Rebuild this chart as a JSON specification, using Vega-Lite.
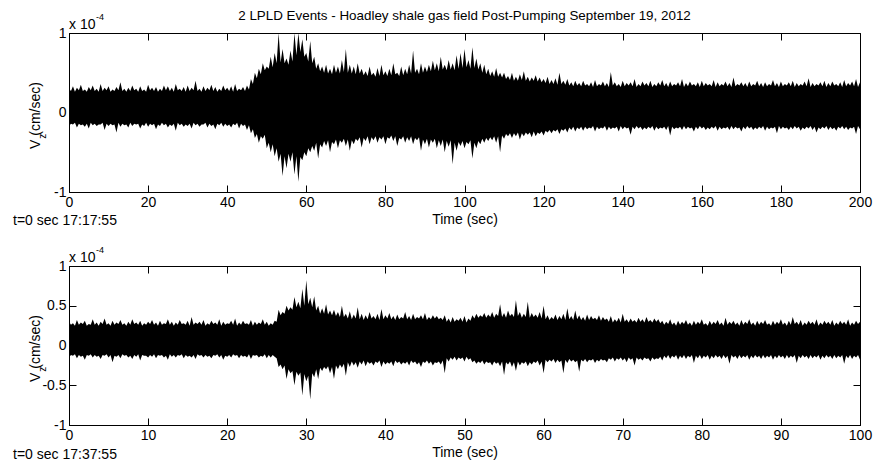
{
"$schema": "https://vega.github.io/schema/vega-lite/v6.json",
"padding": {"left": 12, "top": 8, "right": 5, "bottom": 5},
"bounds": "flush",
"spacing": 74,
"config": {
  "font": "Liberation Sans",
  "view": {"stroke": "#000", "strokeWidth": 1},
  "axis": {"domainColor": "#000", "tickColor": "#000", "labelColor": "#000", "titleColor": "#000", "labelFont": "Liberation Sans", "titleFont": "Liberation Sans", "labelFontSize": 14, "titleFontSize": 14, "titleFontWeight": "normal", "grid": false, "tickSize": -7, "labelPadding": 10, "labelFlush": false, "labelOverlap": false},
  "text": {"font": "Liberation Sans", "fontSize": 14, "color": "#000"}
},
"datasets": {
"top": [
{"t":0,"h":0.30,"l":-0.17},{"t":0.5,"h":0.27,"l":-0.14},{"t":1,"h":0.33,"l":-0.15},{"t":1.5,"h":0.26,"l":-0.13},{"t":2,"h":0.31,"l":-0.19},{"t":2.5,"h":0.28,"l":-0.14},{"t":3,"h":0.35,"l":-0.16},{"t":3.5,"h":0.27,"l":-0.15},{"t":4,"h":0.29,"l":-0.18},{"t":4.5,"h":0.26,"l":-0.14},
{"t":5,"h":0.32,"l":-0.20},{"t":5.5,"h":0.28,"l":-0.13},{"t":6,"h":0.34,"l":-0.16},{"t":6.5,"h":0.27,"l":-0.14},{"t":7,"h":0.30,"l":-0.17},{"t":7.5,"h":0.26,"l":-0.15},{"t":8,"h":0.36,"l":-0.15},{"t":8.5,"h":0.27,"l":-0.13},{"t":9,"h":0.31,"l":-0.22},{"t":9.5,"h":0.28,"l":-0.14},
{"t":10,"h":0.33,"l":-0.17},{"t":10.5,"h":0.26,"l":-0.14},{"t":11,"h":0.29,"l":-0.16},{"t":11.5,"h":0.27,"l":-0.15},{"t":12,"h":0.32,"l":-0.25},{"t":12.5,"h":0.28,"l":-0.13},{"t":13,"h":0.38,"l":-0.18},{"t":13.5,"h":0.27,"l":-0.14},{"t":14,"h":0.30,"l":-0.16},{"t":14.5,"h":0.26,"l":-0.15},
{"t":15,"h":0.31,"l":-0.19},{"t":15.5,"h":0.27,"l":-0.13},{"t":16,"h":0.34,"l":-0.17},{"t":16.5,"h":0.28,"l":-0.14},{"t":17,"h":0.30,"l":-0.15},{"t":17.5,"h":0.26,"l":-0.14},{"t":18,"h":0.33,"l":-0.20},{"t":18.5,"h":0.27,"l":-0.15},{"t":19,"h":0.29,"l":-0.17},{"t":19.5,"h":0.26,"l":-0.13},
{"t":20,"h":0.35,"l":-0.18},{"t":20.5,"h":0.28,"l":-0.14},{"t":21,"h":0.31,"l":-0.16},{"t":21.5,"h":0.27,"l":-0.14},{"t":22,"h":0.32,"l":-0.21},{"t":22.5,"h":0.26,"l":-0.15},{"t":23,"h":0.30,"l":-0.17},{"t":23.5,"h":0.27,"l":-0.13},{"t":24,"h":0.34,"l":-0.16},{"t":24.5,"h":0.28,"l":-0.14},
{"t":25,"h":0.33,"l":-0.19},{"t":25.5,"h":0.27,"l":-0.15},{"t":26,"h":0.31,"l":-0.17},{"t":26.5,"h":0.26,"l":-0.14},{"t":27,"h":0.36,"l":-0.23},{"t":27.5,"h":0.28,"l":-0.13},{"t":28,"h":0.30,"l":-0.16},{"t":28.5,"h":0.27,"l":-0.14},{"t":29,"h":0.32,"l":-0.18},{"t":29.5,"h":0.26,"l":-0.15},
{"t":30,"h":0.34,"l":-0.17},{"t":30.5,"h":0.27,"l":-0.14},{"t":31,"h":0.31,"l":-0.20},{"t":31.5,"h":0.28,"l":-0.13},{"t":32,"h":0.40,"l":-0.16},{"t":32.5,"h":0.27,"l":-0.14},{"t":33,"h":0.30,"l":-0.18},{"t":33.5,"h":0.26,"l":-0.15},{"t":34,"h":0.33,"l":-0.15},{"t":34.5,"h":0.27,"l":-0.13},
{"t":35,"h":0.31,"l":-0.19},{"t":35.5,"h":0.28,"l":-0.14},{"t":36,"h":0.35,"l":-0.17},{"t":36.5,"h":0.27,"l":-0.15},{"t":37,"h":0.32,"l":-0.21},{"t":37.5,"h":0.26,"l":-0.14},{"t":38,"h":0.30,"l":-0.16},{"t":38.5,"h":0.27,"l":-0.13},{"t":39,"h":0.34,"l":-0.18},{"t":39.5,"h":0.28,"l":-0.14},
{"t":40,"h":0.31,"l":-0.17},{"t":40.5,"h":0.27,"l":-0.15},{"t":41,"h":0.33,"l":-0.19},{"t":41.5,"h":0.26,"l":-0.14},{"t":42,"h":0.36,"l":-0.16},{"t":42.5,"h":0.27,"l":-0.13},{"t":43,"h":0.30,"l":-0.20},{"t":43.5,"h":0.28,"l":-0.14},{"t":44,"h":0.32,"l":-0.17},{"t":44.5,"h":0.27,"l":-0.15},
{"t":45,"h":0.34,"l":-0.22},{"t":45.5,"h":0.29,"l":-0.16},{"t":46,"h":0.42,"l":-0.26},{"t":46.5,"h":0.36,"l":-0.21},{"t":47,"h":0.50,"l":-0.32},{"t":47.5,"h":0.43,"l":-0.27},{"t":48,"h":0.55,"l":-0.38},{"t":48.5,"h":0.48,"l":-0.30},{"t":49,"h":0.62,"l":-0.33},{"t":49.5,"h":0.53,"l":-0.28},
{"t":50,"h":0.58,"l":-0.45},{"t":50.5,"h":0.55,"l":-0.38},{"t":51,"h":0.70,"l":-0.50},{"t":51.5,"h":0.57,"l":-0.40},{"t":52,"h":0.75,"l":-0.55},{"t":52.5,"h":0.62,"l":-0.45},{"t":53,"h":1.0,"l":-0.62},{"t":53.5,"h":0.63,"l":-0.52},{"t":54,"h":0.80,"l":-0.80},{"t":54.5,"h":0.62,"l":-0.55},
{"t":55,"h":0.68,"l":-0.70},{"t":55.5,"h":0.60,"l":-0.52},{"t":56,"h":0.78,"l":-0.62},{"t":56.5,"h":0.64,"l":-0.50},{"t":57,"h":1.0,"l":-0.78},{"t":57.5,"h":0.72,"l":-0.55},{"t":58,"h":1.0,"l":-0.87},{"t":58.5,"h":0.76,"l":-0.56},{"t":59,"h":0.92,"l":-0.60},{"t":59.5,"h":0.70,"l":-0.50},
{"t":60,"h":0.75,"l":-0.55},{"t":60.5,"h":0.64,"l":-0.45},{"t":61,"h":0.90,"l":-0.50},{"t":61.5,"h":0.62,"l":-0.42},{"t":62,"h":0.70,"l":-0.48},{"t":62.5,"h":0.55,"l":-0.38},{"t":63,"h":0.62,"l":-0.58},{"t":63.5,"h":0.52,"l":-0.40},{"t":64,"h":0.58,"l":-0.44},{"t":64.5,"h":0.50,"l":-0.36},
{"t":65,"h":0.60,"l":-0.42},{"t":65.5,"h":0.49,"l":-0.35},{"t":66,"h":0.55,"l":-0.50},{"t":66.5,"h":0.48,"l":-0.37},{"t":67,"h":0.60,"l":-0.40},{"t":67.5,"h":0.50,"l":-0.34},{"t":68,"h":0.58,"l":-0.45},{"t":68.5,"h":0.49,"l":-0.35},{"t":69,"h":0.66,"l":-0.38},{"t":69.5,"h":0.51,"l":-0.33},
{"t":70,"h":0.80,"l":-0.42},{"t":70.5,"h":0.50,"l":-0.34},{"t":71,"h":0.60,"l":-0.48},{"t":71.5,"h":0.49,"l":-0.35},{"t":72,"h":0.58,"l":-0.40},{"t":72.5,"h":0.48,"l":-0.33},{"t":73,"h":0.62,"l":-0.36},{"t":73.5,"h":0.49,"l":-0.31},{"t":74,"h":0.55,"l":-0.44},{"t":74.5,"h":0.47,"l":-0.32},
{"t":75,"h":0.52,"l":-0.36},{"t":75.5,"h":0.46,"l":-0.30},{"t":76,"h":0.58,"l":-0.40},{"t":76.5,"h":0.47,"l":-0.31},{"t":77,"h":0.50,"l":-0.35},{"t":77.5,"h":0.45,"l":-0.30},{"t":78,"h":0.56,"l":-0.38},{"t":78.5,"h":0.46,"l":-0.31},{"t":79,"h":0.60,"l":-0.34},{"t":79.5,"h":0.47,"l":-0.30},
{"t":80,"h":0.52,"l":-0.40},{"t":80.5,"h":0.46,"l":-0.31},{"t":81,"h":0.55,"l":-0.33},{"t":81.5,"h":0.47,"l":-0.29},{"t":82,"h":0.62,"l":-0.36},{"t":82.5,"h":0.48,"l":-0.30},{"t":83,"h":0.50,"l":-0.42},{"t":83.5,"h":0.46,"l":-0.32},{"t":84,"h":0.58,"l":-0.34},{"t":84.5,"h":0.47,"l":-0.30},
{"t":85,"h":0.55,"l":-0.38},{"t":85.5,"h":0.48,"l":-0.31},{"t":86,"h":0.60,"l":-0.36},{"t":86.5,"h":0.49,"l":-0.30},{"t":87,"h":0.78,"l":-0.40},{"t":87.5,"h":0.50,"l":-0.32},{"t":88,"h":0.55,"l":-0.35},{"t":88.5,"h":0.48,"l":-0.31},{"t":89,"h":0.62,"l":-0.48},{"t":89.5,"h":0.50,"l":-0.34},
{"t":90,"h":0.58,"l":-0.40},{"t":90.5,"h":0.51,"l":-0.33},{"t":91,"h":0.60,"l":-0.44},{"t":91.5,"h":0.52,"l":-0.34},{"t":92,"h":0.65,"l":-0.38},{"t":92.5,"h":0.53,"l":-0.33},{"t":93,"h":0.62,"l":-0.45},{"t":93.5,"h":0.52,"l":-0.35},{"t":94,"h":0.70,"l":-0.42},{"t":94.5,"h":0.54,"l":-0.34},
{"t":95,"h":0.60,"l":-0.50},{"t":95.5,"h":0.53,"l":-0.36},{"t":96,"h":0.66,"l":-0.43},{"t":96.5,"h":0.54,"l":-0.35},{"t":97,"h":0.62,"l":-0.65},{"t":97.5,"h":0.53,"l":-0.38},{"t":98,"h":0.72,"l":-0.48},{"t":98.5,"h":0.55,"l":-0.37},{"t":99,"h":0.75,"l":-0.42},{"t":99.5,"h":0.56,"l":-0.36},
{"t":100,"h":0.80,"l":-0.45},{"t":100.5,"h":0.57,"l":-0.37},{"t":101,"h":0.66,"l":-0.40},{"t":101.5,"h":0.55,"l":-0.35},{"t":102,"h":0.82,"l":-0.58},{"t":102.5,"h":0.56,"l":-0.38},{"t":103,"h":0.68,"l":-0.45},{"t":103.5,"h":0.54,"l":-0.36},{"t":104,"h":0.62,"l":-0.40},{"t":104.5,"h":0.50,"l":-0.33},
{"t":105,"h":0.60,"l":-0.38},{"t":105.5,"h":0.48,"l":-0.32},{"t":106,"h":0.55,"l":-0.36},{"t":106.5,"h":0.46,"l":-0.31},{"t":107,"h":0.52,"l":-0.35},{"t":107.5,"h":0.45,"l":-0.30},{"t":108,"h":0.56,"l":-0.38},{"t":108.5,"h":0.45,"l":-0.30},{"t":109,"h":0.50,"l":-0.50},{"t":109.5,"h":0.44,"l":-0.29},
{"t":110,"h":0.50,"l":-0.33},{"t":110.5,"h":0.42,"l":-0.27},{"t":111,"h":0.46,"l":-0.30},{"t":111.5,"h":0.41,"l":-0.26},{"t":112,"h":0.50,"l":-0.32},{"t":112.5,"h":0.40,"l":-0.26},{"t":113,"h":0.45,"l":-0.30},{"t":113.5,"h":0.40,"l":-0.25},{"t":114,"h":0.48,"l":-0.34},{"t":114.5,"h":0.41,"l":-0.26},
{"t":115,"h":0.52,"l":-0.30},{"t":115.5,"h":0.40,"l":-0.25},{"t":116,"h":0.45,"l":-0.28},{"t":116.5,"h":0.39,"l":-0.25},{"t":117,"h":0.44,"l":-0.31},{"t":117.5,"h":0.40,"l":-0.24},{"t":118,"h":0.47,"l":-0.30},{"t":118.5,"h":0.39,"l":-0.25},{"t":119,"h":0.44,"l":-0.27},{"t":119.5,"h":0.38,"l":-0.24},
{"t":120,"h":0.42,"l":-0.29},{"t":120.5,"h":0.37,"l":-0.23},{"t":121,"h":0.45,"l":-0.25},{"t":121.5,"h":0.36,"l":-0.22},{"t":122,"h":0.41,"l":-0.26},{"t":122.5,"h":0.36,"l":-0.22},{"t":123,"h":0.43,"l":-0.24},{"t":123.5,"h":0.35,"l":-0.21},{"t":124,"h":0.50,"l":-0.27},{"t":124.5,"h":0.36,"l":-0.21},
{"t":125,"h":0.40,"l":-0.23},{"t":125.5,"h":0.35,"l":-0.20},{"t":126,"h":0.42,"l":-0.25},{"t":126.5,"h":0.34,"l":-0.19},{"t":127,"h":0.38,"l":-0.22},{"t":127.5,"h":0.33,"l":-0.18},{"t":128,"h":0.40,"l":-0.24},{"t":128.5,"h":0.34,"l":-0.19},{"t":129,"h":0.37,"l":-0.21},{"t":129.5,"h":0.33,"l":-0.18},
{"t":130,"h":0.40,"l":-0.23},{"t":130.5,"h":0.34,"l":-0.18},{"t":131,"h":0.36,"l":-0.21},{"t":131.5,"h":0.33,"l":-0.19},{"t":132,"h":0.38,"l":-0.20},{"t":132.5,"h":0.32,"l":-0.17},{"t":133,"h":0.41,"l":-0.24},{"t":133.5,"h":0.33,"l":-0.18},{"t":134,"h":0.36,"l":-0.21},{"t":134.5,"h":0.34,"l":-0.19},
{"t":135,"h":0.39,"l":-0.20},{"t":135.5,"h":0.33,"l":-0.17},{"t":136,"h":0.37,"l":-0.23},{"t":136.5,"h":0.32,"l":-0.18},{"t":137,"h":0.51,"l":-0.21},{"t":137.5,"h":0.34,"l":-0.19},{"t":138,"h":0.38,"l":-0.20},{"t":138.5,"h":0.33,"l":-0.18},{"t":139,"h":0.36,"l":-0.24},{"t":139.5,"h":0.32,"l":-0.17},
{"t":140,"h":0.40,"l":-0.21},{"t":140.5,"h":0.33,"l":-0.18},{"t":141,"h":0.37,"l":-0.20},{"t":141.5,"h":0.34,"l":-0.19},{"t":142,"h":0.38,"l":-0.28},{"t":142.5,"h":0.33,"l":-0.18},{"t":143,"h":0.42,"l":-0.21},{"t":143.5,"h":0.32,"l":-0.17},{"t":144,"h":0.36,"l":-0.20},{"t":144.5,"h":0.33,"l":-0.18},
{"t":145,"h":0.39,"l":-0.22},{"t":145.5,"h":0.34,"l":-0.19},{"t":146,"h":0.37,"l":-0.21},{"t":146.5,"h":0.33,"l":-0.18},{"t":147,"h":0.40,"l":-0.20},{"t":147.5,"h":0.32,"l":-0.17},{"t":148,"h":0.36,"l":-0.23},{"t":148.5,"h":0.33,"l":-0.18},{"t":149,"h":0.38,"l":-0.21},{"t":149.5,"h":0.34,"l":-0.19},
{"t":150,"h":0.41,"l":-0.20},{"t":150.5,"h":0.33,"l":-0.18},{"t":151,"h":0.37,"l":-0.22},{"t":151.5,"h":0.32,"l":-0.17},{"t":152,"h":0.39,"l":-0.29},{"t":152.5,"h":0.33,"l":-0.18},{"t":153,"h":0.36,"l":-0.21},{"t":153.5,"h":0.34,"l":-0.19},{"t":154,"h":0.38,"l":-0.20},{"t":154.5,"h":0.33,"l":-0.18},
{"t":155,"h":0.42,"l":-0.22},{"t":155.5,"h":0.32,"l":-0.17},{"t":156,"h":0.37,"l":-0.21},{"t":156.5,"h":0.33,"l":-0.18},{"t":157,"h":0.39,"l":-0.20},{"t":157.5,"h":0.34,"l":-0.19},{"t":158,"h":0.36,"l":-0.24},{"t":158.5,"h":0.33,"l":-0.18},{"t":159,"h":0.38,"l":-0.21},{"t":159.5,"h":0.32,"l":-0.17},
{"t":160,"h":0.40,"l":-0.20},{"t":160.5,"h":0.33,"l":-0.18},{"t":161,"h":0.37,"l":-0.22},{"t":161.5,"h":0.34,"l":-0.19},{"t":162,"h":0.36,"l":-0.21},{"t":162.5,"h":0.33,"l":-0.18},{"t":163,"h":0.41,"l":-0.20},{"t":163.5,"h":0.32,"l":-0.17},{"t":164,"h":0.38,"l":-0.23},{"t":164.5,"h":0.33,"l":-0.18},
{"t":165,"h":0.36,"l":-0.21},{"t":165.5,"h":0.34,"l":-0.19},{"t":166,"h":0.39,"l":-0.20},{"t":166.5,"h":0.33,"l":-0.18},{"t":167,"h":0.37,"l":-0.22},{"t":167.5,"h":0.32,"l":-0.17},{"t":168,"h":0.44,"l":-0.21},{"t":168.5,"h":0.33,"l":-0.18},{"t":169,"h":0.36,"l":-0.20},{"t":169.5,"h":0.34,"l":-0.19},
{"t":170,"h":0.38,"l":-0.24},{"t":170.5,"h":0.33,"l":-0.18},{"t":171,"h":0.37,"l":-0.21},{"t":171.5,"h":0.32,"l":-0.17},{"t":172,"h":0.39,"l":-0.20},{"t":172.5,"h":0.33,"l":-0.18},{"t":173,"h":0.36,"l":-0.22},{"t":173.5,"h":0.34,"l":-0.19},{"t":174,"h":0.40,"l":-0.21},{"t":174.5,"h":0.33,"l":-0.18},
{"t":175,"h":0.37,"l":-0.20},{"t":175.5,"h":0.32,"l":-0.17},{"t":176,"h":0.38,"l":-0.23},{"t":176.5,"h":0.33,"l":-0.18},{"t":177,"h":0.36,"l":-0.21},{"t":177.5,"h":0.34,"l":-0.19},{"t":178,"h":0.41,"l":-0.20},{"t":178.5,"h":0.33,"l":-0.18},{"t":179,"h":0.37,"l":-0.26},{"t":179.5,"h":0.32,"l":-0.17},
{"t":180,"h":0.39,"l":-0.21},{"t":180.5,"h":0.33,"l":-0.18},{"t":181,"h":0.36,"l":-0.20},{"t":181.5,"h":0.34,"l":-0.19},{"t":182,"h":0.38,"l":-0.22},{"t":182.5,"h":0.33,"l":-0.18},{"t":183,"h":0.40,"l":-0.21},{"t":183.5,"h":0.32,"l":-0.17},{"t":184,"h":0.37,"l":-0.20},{"t":184.5,"h":0.33,"l":-0.18},
{"t":185,"h":0.36,"l":-0.23},{"t":185.5,"h":0.34,"l":-0.19},{"t":186,"h":0.39,"l":-0.21},{"t":186.5,"h":0.33,"l":-0.18},{"t":187,"h":0.43,"l":-0.20},{"t":187.5,"h":0.32,"l":-0.17},{"t":188,"h":0.37,"l":-0.22},{"t":188.5,"h":0.33,"l":-0.18},{"t":189,"h":0.36,"l":-0.25},{"t":189.5,"h":0.34,"l":-0.19},
{"t":190,"h":0.38,"l":-0.21},{"t":190.5,"h":0.33,"l":-0.18},{"t":191,"h":0.40,"l":-0.20},{"t":191.5,"h":0.32,"l":-0.17},{"t":192,"h":0.37,"l":-0.22},{"t":192.5,"h":0.33,"l":-0.18},{"t":193,"h":0.39,"l":-0.21},{"t":193.5,"h":0.34,"l":-0.19},{"t":194,"h":0.36,"l":-0.23},{"t":194.5,"h":0.33,"l":-0.18},
{"t":195,"h":0.38,"l":-0.20},{"t":195.5,"h":0.32,"l":-0.17},{"t":196,"h":0.41,"l":-0.21},{"t":196.5,"h":0.33,"l":-0.18},{"t":197,"h":0.37,"l":-0.22},{"t":197.5,"h":0.34,"l":-0.19},{"t":198,"h":0.39,"l":-0.20},{"t":198.5,"h":0.33,"l":-0.18},{"t":199,"h":0.42,"l":-0.27},{"t":199.5,"h":0.32,"l":-0.17},
{"t":200,"h":0.38,"l":-0.21}
],
"bottom": [
{"t":0,"h":0.30,"l":-0.15},{"t":0.25,"h":0.26,"l":-0.12},{"t":0.5,"h":0.28,"l":-0.13},{"t":0.75,"h":0.25,"l":-0.11},{"t":1,"h":0.32,"l":-0.16},{"t":1.25,"h":0.26,"l":-0.12},{"t":1.5,"h":0.29,"l":-0.14},{"t":1.75,"h":0.27,"l":-0.13},{"t":2,"h":0.31,"l":-0.18},{"t":2.25,"h":0.25,"l":-0.12},
{"t":2.5,"h":0.27,"l":-0.13},{"t":2.75,"h":0.26,"l":-0.11},{"t":3,"h":0.33,"l":-0.15},{"t":3.25,"h":0.26,"l":-0.12},{"t":3.5,"h":0.29,"l":-0.14},{"t":3.75,"h":0.25,"l":-0.13},{"t":4,"h":0.30,"l":-0.17},{"t":4.25,"h":0.27,"l":-0.12},{"t":4.5,"h":0.34,"l":-0.13},{"t":4.75,"h":0.26,"l":-0.11},
{"t":5,"h":0.28,"l":-0.15},{"t":5.25,"h":0.25,"l":-0.12},{"t":5.5,"h":0.31,"l":-0.21},{"t":5.75,"h":0.26,"l":-0.13},{"t":6,"h":0.29,"l":-0.14},{"t":6.25,"h":0.27,"l":-0.12},{"t":6.5,"h":0.32,"l":-0.16},{"t":6.75,"h":0.26,"l":-0.11},{"t":7,"h":0.28,"l":-0.13},{"t":7.25,"h":0.25,"l":-0.12},
{"t":7.5,"h":0.30,"l":-0.15},{"t":7.75,"h":0.26,"l":-0.13},{"t":8,"h":0.33,"l":-0.17},{"t":8.25,"h":0.27,"l":-0.12},{"t":8.5,"h":0.29,"l":-0.14},{"t":8.75,"h":0.26,"l":-0.11},{"t":9,"h":0.31,"l":-0.19},{"t":9.25,"h":0.25,"l":-0.12},{"t":9.5,"h":0.28,"l":-0.13},{"t":9.75,"h":0.26,"l":-0.13},
{"t":10,"h":0.30,"l":-0.15},{"t":10.25,"h":0.27,"l":-0.12},{"t":10.5,"h":0.32,"l":-0.14},{"t":10.75,"h":0.26,"l":-0.11},{"t":11,"h":0.29,"l":-0.16},{"t":11.25,"h":0.25,"l":-0.12},{"t":11.5,"h":0.31,"l":-0.13},{"t":11.75,"h":0.26,"l":-0.12},{"t":12,"h":0.28,"l":-0.15},{"t":12.25,"h":0.27,"l":-0.13},
{"t":12.5,"h":0.33,"l":-0.18},{"t":12.75,"h":0.26,"l":-0.11},{"t":13,"h":0.30,"l":-0.14},{"t":13.25,"h":0.25,"l":-0.12},{"t":13.5,"h":0.29,"l":-0.15},{"t":13.75,"h":0.26,"l":-0.12},{"t":14,"h":0.32,"l":-0.13},{"t":14.25,"h":0.27,"l":-0.11},{"t":14.5,"h":0.28,"l":-0.16},{"t":14.75,"h":0.26,"l":-0.12},
{"t":15,"h":0.31,"l":-0.14},{"t":15.25,"h":0.25,"l":-0.13},{"t":15.5,"h":0.36,"l":-0.15},{"t":15.75,"h":0.26,"l":-0.12},{"t":16,"h":0.29,"l":-0.17},{"t":16.25,"h":0.27,"l":-0.11},{"t":16.5,"h":0.30,"l":-0.13},{"t":16.75,"h":0.26,"l":-0.12},{"t":17,"h":0.32,"l":-0.15},{"t":17.25,"h":0.25,"l":-0.12},
{"t":17.5,"h":0.28,"l":-0.14},{"t":17.75,"h":0.26,"l":-0.13},{"t":18,"h":0.31,"l":-0.16},{"t":18.25,"h":0.27,"l":-0.12},{"t":18.5,"h":0.29,"l":-0.13},{"t":18.75,"h":0.26,"l":-0.11},{"t":19,"h":0.33,"l":-0.15},{"t":19.25,"h":0.25,"l":-0.12},{"t":19.5,"h":0.30,"l":-0.18},{"t":19.75,"h":0.26,"l":-0.13},
{"t":20,"h":0.28,"l":-0.14},{"t":20.25,"h":0.27,"l":-0.12},{"t":20.5,"h":0.31,"l":-0.15},{"t":20.75,"h":0.26,"l":-0.11},{"t":21,"h":0.34,"l":-0.13},{"t":21.25,"h":0.25,"l":-0.12},{"t":21.5,"h":0.29,"l":-0.16},{"t":21.75,"h":0.26,"l":-0.12},{"t":22,"h":0.31,"l":-0.14},{"t":22.25,"h":0.27,"l":-0.13},
{"t":22.5,"h":0.28,"l":-0.15},{"t":22.75,"h":0.26,"l":-0.11},{"t":23,"h":0.32,"l":-0.17},{"t":23.25,"h":0.25,"l":-0.12},{"t":23.5,"h":0.30,"l":-0.13},{"t":23.75,"h":0.26,"l":-0.12},{"t":24,"h":0.29,"l":-0.15},{"t":24.25,"h":0.27,"l":-0.13},{"t":24.5,"h":0.33,"l":-0.14},{"t":24.75,"h":0.26,"l":-0.11},
{"t":25,"h":0.30,"l":-0.16},{"t":25.25,"h":0.25,"l":-0.12},{"t":25.5,"h":0.28,"l":-0.15},{"t":25.75,"h":0.26,"l":-0.12},{"t":26,"h":0.31,"l":-0.14},{"t":26.25,"h":0.30,"l":-0.16},{"t":26.5,"h":0.45,"l":-0.27},{"t":26.75,"h":0.38,"l":-0.24},{"t":27,"h":0.42,"l":-0.30},{"t":27.25,"h":0.40,"l":-0.25},
{"t":27.5,"h":0.50,"l":-0.42},{"t":27.75,"h":0.44,"l":-0.30},{"t":28,"h":0.48,"l":-0.35},{"t":28.25,"h":0.45,"l":-0.32},{"t":28.5,"h":0.61,"l":-0.50},{"t":28.75,"h":0.48,"l":-0.33},{"t":29,"h":0.55,"l":-0.38},{"t":29.25,"h":0.47,"l":-0.34},{"t":29.5,"h":0.71,"l":-0.63},{"t":29.75,"h":0.50,"l":-0.36},
{"t":30,"h":0.82,"l":-0.45},{"t":30.25,"h":0.52,"l":-0.38},{"t":30.5,"h":0.60,"l":-0.68},{"t":30.75,"h":0.48,"l":-0.35},{"t":31,"h":0.62,"l":-0.40},{"t":31.25,"h":0.44,"l":-0.30},{"t":31.5,"h":0.50,"l":-0.42},{"t":31.75,"h":0.40,"l":-0.28},{"t":32,"h":0.47,"l":-0.32},{"t":32.25,"h":0.40,"l":-0.27},
{"t":32.5,"h":0.52,"l":-0.30},{"t":32.75,"h":0.39,"l":-0.26},{"t":33,"h":0.44,"l":-0.35},{"t":33.25,"h":0.38,"l":-0.27},{"t":33.5,"h":0.45,"l":-0.42},{"t":33.75,"h":0.37,"l":-0.25},{"t":34,"h":0.42,"l":-0.30},{"t":34.25,"h":0.36,"l":-0.24},{"t":34.5,"h":0.50,"l":-0.28},{"t":34.75,"h":0.36,"l":-0.23},
{"t":35,"h":0.40,"l":-0.38},{"t":35.25,"h":0.34,"l":-0.21},{"t":35.5,"h":0.43,"l":-0.27},{"t":35.75,"h":0.33,"l":-0.20},{"t":36,"h":0.39,"l":-0.25},{"t":36.25,"h":0.34,"l":-0.21},{"t":36.5,"h":0.48,"l":-0.28},{"t":36.75,"h":0.33,"l":-0.20},{"t":37,"h":0.40,"l":-0.24},{"t":37.25,"h":0.32,"l":-0.19},
{"t":37.5,"h":0.38,"l":-0.26},{"t":37.75,"h":0.33,"l":-0.20},{"t":38,"h":0.42,"l":-0.23},{"t":38.25,"h":0.34,"l":-0.21},{"t":38.5,"h":0.37,"l":-0.25},{"t":38.75,"h":0.33,"l":-0.20},{"t":39,"h":0.40,"l":-0.22},{"t":39.25,"h":0.32,"l":-0.19},{"t":39.5,"h":0.46,"l":-0.27},{"t":39.75,"h":0.33,"l":-0.20},
{"t":40,"h":0.38,"l":-0.24},{"t":40.25,"h":0.34,"l":-0.21},{"t":40.5,"h":0.41,"l":-0.23},{"t":40.75,"h":0.33,"l":-0.20},{"t":41,"h":0.37,"l":-0.26},{"t":41.25,"h":0.32,"l":-0.19},{"t":41.5,"h":0.39,"l":-0.22},{"t":41.75,"h":0.33,"l":-0.20},{"t":42,"h":0.36,"l":-0.24},{"t":42.25,"h":0.34,"l":-0.21},
{"t":42.5,"h":0.42,"l":-0.23},{"t":42.75,"h":0.33,"l":-0.20},{"t":43,"h":0.37,"l":-0.25},{"t":43.25,"h":0.32,"l":-0.19},{"t":43.5,"h":0.40,"l":-0.22},{"t":43.75,"h":0.33,"l":-0.20},{"t":44,"h":0.36,"l":-0.24},{"t":44.25,"h":0.34,"l":-0.21},{"t":44.5,"h":0.38,"l":-0.27},{"t":44.75,"h":0.33,"l":-0.20},
{"t":45,"h":0.41,"l":-0.22},{"t":45.25,"h":0.32,"l":-0.19},{"t":45.5,"h":0.36,"l":-0.23},{"t":45.75,"h":0.33,"l":-0.20},{"t":46,"h":0.38,"l":-0.25},{"t":46.25,"h":0.34,"l":-0.21},{"t":46.5,"h":0.37,"l":-0.22},{"t":46.75,"h":0.33,"l":-0.20},{"t":47,"h":0.35,"l":-0.24},{"t":47.25,"h":0.32,"l":-0.19},
{"t":47.5,"h":0.38,"l":-0.35},{"t":47.75,"h":0.30,"l":-0.16},{"t":48,"h":0.34,"l":-0.20},{"t":48.25,"h":0.29,"l":-0.15},{"t":48.5,"h":0.36,"l":-0.18},{"t":48.75,"h":0.30,"l":-0.14},{"t":49,"h":0.33,"l":-0.19},{"t":49.25,"h":0.31,"l":-0.15},{"t":49.5,"h":0.35,"l":-0.17},{"t":49.75,"h":0.30,"l":-0.15},
{"t":50,"h":0.37,"l":-0.20},{"t":50.25,"h":0.29,"l":-0.14},{"t":50.5,"h":0.34,"l":-0.18},{"t":50.75,"h":0.31,"l":-0.16},{"t":51,"h":0.38,"l":-0.21},{"t":51.25,"h":0.34,"l":-0.19},{"t":51.5,"h":0.40,"l":-0.23},{"t":51.75,"h":0.35,"l":-0.20},{"t":52,"h":0.38,"l":-0.22},{"t":52.25,"h":0.36,"l":-0.19},
{"t":52.5,"h":0.41,"l":-0.24},{"t":52.75,"h":0.35,"l":-0.20},{"t":53,"h":0.39,"l":-0.22},{"t":53.25,"h":0.36,"l":-0.21},{"t":53.5,"h":0.42,"l":-0.25},{"t":53.75,"h":0.35,"l":-0.20},{"t":54,"h":0.40,"l":-0.23},{"t":54.25,"h":0.37,"l":-0.21},{"t":54.5,"h":0.52,"l":-0.26},{"t":54.75,"h":0.36,"l":-0.20},
{"t":55,"h":0.41,"l":-0.37},{"t":55.25,"h":0.35,"l":-0.21},{"t":55.5,"h":0.44,"l":-0.24},{"t":55.75,"h":0.37,"l":-0.20},{"t":56,"h":0.40,"l":-0.27},{"t":56.25,"h":0.36,"l":-0.21},{"t":56.5,"h":0.57,"l":-0.32},{"t":56.75,"h":0.37,"l":-0.20},{"t":57,"h":0.42,"l":-0.25},{"t":57.25,"h":0.35,"l":-0.21},
{"t":57.5,"h":0.40,"l":-0.23},{"t":57.75,"h":0.36,"l":-0.20},{"t":58,"h":0.55,"l":-0.26},{"t":58.25,"h":0.35,"l":-0.21},{"t":58.5,"h":0.41,"l":-0.24},{"t":58.75,"h":0.36,"l":-0.20},{"t":59,"h":0.39,"l":-0.22},{"t":59.25,"h":0.35,"l":-0.19},{"t":59.5,"h":0.42,"l":-0.25},{"t":59.75,"h":0.34,"l":-0.20},
{"t":60,"h":0.50,"l":-0.35},{"t":60.25,"h":0.33,"l":-0.18},{"t":60.5,"h":0.38,"l":-0.21},{"t":60.75,"h":0.32,"l":-0.18},{"t":61,"h":0.36,"l":-0.20},{"t":61.25,"h":0.33,"l":-0.17},{"t":61.5,"h":0.39,"l":-0.22},{"t":61.75,"h":0.32,"l":-0.18},{"t":62,"h":0.37,"l":-0.21},{"t":62.25,"h":0.33,"l":-0.19},
{"t":62.5,"h":0.40,"l":-0.35},{"t":62.75,"h":0.32,"l":-0.18},{"t":63,"h":0.47,"l":-0.22},{"t":63.25,"h":0.33,"l":-0.17},{"t":63.5,"h":0.37,"l":-0.20},{"t":63.75,"h":0.32,"l":-0.18},{"t":64,"h":0.44,"l":-0.21},{"t":64.25,"h":0.33,"l":-0.19},{"t":64.5,"h":0.38,"l":-0.33},{"t":64.75,"h":0.32,"l":-0.18},
{"t":65,"h":0.36,"l":-0.20},{"t":65.25,"h":0.31,"l":-0.17},{"t":65.5,"h":0.39,"l":-0.21},{"t":65.75,"h":0.32,"l":-0.18},{"t":66,"h":0.37,"l":-0.19},{"t":66.25,"h":0.33,"l":-0.17},{"t":66.5,"h":0.35,"l":-0.22},{"t":66.75,"h":0.32,"l":-0.18},{"t":67,"h":0.38,"l":-0.20},{"t":67.25,"h":0.31,"l":-0.17},
{"t":67.5,"h":0.36,"l":-0.19},{"t":67.75,"h":0.32,"l":-0.18},{"t":68,"h":0.34,"l":-0.21},{"t":68.25,"h":0.30,"l":-0.16},{"t":68.5,"h":0.37,"l":-0.18},{"t":68.75,"h":0.29,"l":-0.15},{"t":69,"h":0.33,"l":-0.20},{"t":69.25,"h":0.30,"l":-0.16},{"t":69.5,"h":0.35,"l":-0.18},{"t":69.75,"h":0.29,"l":-0.15},
{"t":70,"h":0.40,"l":-0.19},{"t":70.25,"h":0.30,"l":-0.16},{"t":70.5,"h":0.33,"l":-0.21},{"t":70.75,"h":0.29,"l":-0.15},{"t":71,"h":0.34,"l":-0.18},{"t":71.25,"h":0.30,"l":-0.16},{"t":71.5,"h":0.32,"l":-0.25},{"t":71.75,"h":0.29,"l":-0.15},{"t":72,"h":0.35,"l":-0.18},{"t":72.25,"h":0.30,"l":-0.16},
{"t":72.5,"h":0.33,"l":-0.19},{"t":72.75,"h":0.29,"l":-0.15},{"t":73,"h":0.36,"l":-0.17},{"t":73.25,"h":0.30,"l":-0.16},{"t":73.5,"h":0.32,"l":-0.20},{"t":73.75,"h":0.29,"l":-0.15},{"t":74,"h":0.34,"l":-0.18},{"t":74.25,"h":0.30,"l":-0.16},{"t":74.5,"h":0.33,"l":-0.17},{"t":74.75,"h":0.28,"l":-0.14},
{"t":75,"h":0.31,"l":-0.19},{"t":75.25,"h":0.26,"l":-0.13},{"t":75.5,"h":0.30,"l":-0.16},{"t":75.75,"h":0.27,"l":-0.12},{"t":76,"h":0.33,"l":-0.17},{"t":76.25,"h":0.26,"l":-0.13},{"t":76.5,"h":0.29,"l":-0.15},{"t":76.75,"h":0.25,"l":-0.12},{"t":77,"h":0.31,"l":-0.18},{"t":77.25,"h":0.26,"l":-0.13},
{"t":77.5,"h":0.30,"l":-0.16},{"t":77.75,"h":0.27,"l":-0.12},{"t":78,"h":0.32,"l":-0.17},{"t":78.25,"h":0.26,"l":-0.13},{"t":78.5,"h":0.29,"l":-0.15},{"t":78.75,"h":0.25,"l":-0.12},{"t":79,"h":0.31,"l":-0.22},{"t":79.25,"h":0.26,"l":-0.13},{"t":79.5,"h":0.30,"l":-0.16},{"t":79.75,"h":0.27,"l":-0.12},
{"t":80,"h":0.33,"l":-0.17},{"t":80.25,"h":0.26,"l":-0.13},{"t":80.5,"h":0.28,"l":-0.15},{"t":80.75,"h":0.25,"l":-0.12},{"t":81,"h":0.31,"l":-0.18},{"t":81.25,"h":0.26,"l":-0.13},{"t":81.5,"h":0.30,"l":-0.16},{"t":81.75,"h":0.27,"l":-0.12},{"t":82,"h":0.32,"l":-0.15},{"t":82.25,"h":0.26,"l":-0.13},
{"t":82.5,"h":0.29,"l":-0.17},{"t":82.75,"h":0.25,"l":-0.12},{"t":83,"h":0.35,"l":-0.16},{"t":83.25,"h":0.26,"l":-0.13},{"t":83.5,"h":0.30,"l":-0.23},{"t":83.75,"h":0.27,"l":-0.12},{"t":84,"h":0.31,"l":-0.15},{"t":84.25,"h":0.26,"l":-0.13},{"t":84.5,"h":0.29,"l":-0.17},{"t":84.75,"h":0.25,"l":-0.12},
{"t":85,"h":0.32,"l":-0.16},{"t":85.25,"h":0.26,"l":-0.13},{"t":85.5,"h":0.30,"l":-0.15},{"t":85.75,"h":0.27,"l":-0.12},{"t":86,"h":0.33,"l":-0.18},{"t":86.25,"h":0.26,"l":-0.13},{"t":86.5,"h":0.29,"l":-0.16},{"t":86.75,"h":0.25,"l":-0.12},{"t":87,"h":0.31,"l":-0.15},{"t":87.25,"h":0.26,"l":-0.13},
{"t":87.5,"h":0.30,"l":-0.17},{"t":87.75,"h":0.27,"l":-0.12},{"t":88,"h":0.32,"l":-0.16},{"t":88.25,"h":0.26,"l":-0.13},{"t":88.5,"h":0.28,"l":-0.15},{"t":88.75,"h":0.25,"l":-0.12},{"t":89,"h":0.31,"l":-0.18},{"t":89.25,"h":0.26,"l":-0.13},{"t":89.5,"h":0.30,"l":-0.16},{"t":89.75,"h":0.27,"l":-0.12},
{"t":90,"h":0.33,"l":-0.15},{"t":90.25,"h":0.26,"l":-0.13},{"t":90.5,"h":0.29,"l":-0.17},{"t":90.75,"h":0.25,"l":-0.12},{"t":91,"h":0.31,"l":-0.16},{"t":91.25,"h":0.26,"l":-0.13},{"t":91.5,"h":0.36,"l":-0.15},{"t":91.75,"h":0.27,"l":-0.12},{"t":92,"h":0.30,"l":-0.22},{"t":92.25,"h":0.26,"l":-0.13},
{"t":92.5,"h":0.32,"l":-0.16},{"t":92.75,"h":0.25,"l":-0.12},{"t":93,"h":0.29,"l":-0.15},{"t":93.25,"h":0.26,"l":-0.13},{"t":93.5,"h":0.31,"l":-0.17},{"t":93.75,"h":0.27,"l":-0.12},{"t":94,"h":0.30,"l":-0.16},{"t":94.25,"h":0.26,"l":-0.13},{"t":94.5,"h":0.33,"l":-0.15},{"t":94.75,"h":0.25,"l":-0.12},
{"t":95,"h":0.29,"l":-0.18},{"t":95.25,"h":0.26,"l":-0.13},{"t":95.5,"h":0.31,"l":-0.16},{"t":95.75,"h":0.27,"l":-0.12},{"t":96,"h":0.30,"l":-0.15},{"t":96.25,"h":0.26,"l":-0.13},{"t":96.5,"h":0.32,"l":-0.17},{"t":96.75,"h":0.25,"l":-0.12},{"t":97,"h":0.29,"l":-0.16},{"t":97.25,"h":0.26,"l":-0.13},
{"t":97.5,"h":0.31,"l":-0.15},{"t":97.75,"h":0.27,"l":-0.12},{"t":98,"h":0.30,"l":-0.23},{"t":98.25,"h":0.26,"l":-0.13},{"t":98.5,"h":0.33,"l":-0.16},{"t":98.75,"h":0.25,"l":-0.12},{"t":99,"h":0.29,"l":-0.17},{"t":99.25,"h":0.26,"l":-0.13},{"t":99.5,"h":0.31,"l":-0.15},{"t":99.75,"h":0.27,"l":-0.12},
{"t":100,"h":0.30,"l":-0.18}
]
},
"vconcat": [
{
  "width": 791, "height": 159,
  "title": {"text": "2 LPLD Events - Hoadley shale gas field Post-Pumping September 19, 2012", "font": "Liberation Sans", "fontSize": 13.4, "fontWeight": "normal", "color": "#000", "anchor": "middle", "offset": -9},
  "layer": [
    {"data": {"name": "top"}, "mark": {"type": "area", "color": "#000", "opacity": 1},
     "encoding": {
       "x": {"field": "t", "type": "quantitative", "scale": {"domain": [0, 200], "nice": false, "zero": false}, "axis": {"orient": "bottom", "values": [0,20,40,60,80,100,120,140,160,180,200], "title": "Time (sec)", "titleBaseline": "alphabetic", "titleY": 31}},
       "y": {"field": "h", "type": "quantitative", "scale": {"domain": [-1, 1], "nice": false, "zero": false}, "axis": {"orient": "left", "values": [-1,0,1], "labelExpr": "'' + datum.value", "title": "V   (cm/sec)", "titleX": -30, "titleY": 82, "titleBaseline": "alphabetic"}},
       "y2": {"field": "l"}
     }},
    {"data": {"values": [{"s": "x 10"}]}, "mark": {"type": "text", "align": "left", "baseline": "alphabetic", "dy": -4},
     "encoding": {
       "x": {"datum": 0, "type": "quantitative", "axis": {"orient": "top", "labels": false, "title": null, "domain": false, "values": [0,20,40,60,80,100,120,140,160,180,200]}},
       "y": {"datum": 1, "type": "quantitative", "axis": {"orient": "right", "labels": false, "title": null, "domain": false, "values": [-1,0,1]}},
       "text": {"field": "s"}
     }},
    {"data": {"values": [{"s": "-4"}]}, "mark": {"type": "text", "align": "left", "baseline": "alphabetic", "dx": 27, "dy": -13, "fontSize": 9},
     "encoding": {"x": {"datum": 0, "type": "quantitative", "axis": null}, "y": {"datum": 1, "type": "quantitative", "axis": null}, "text": {"field": "s"}}},
    {"data": {"values": [{"s": "t=0 sec 17:17:55"}]}, "mark": {"type": "text", "align": "left", "baseline": "alphabetic", "dx": -56, "dy": 33},
     "encoding": {"x": {"datum": 0, "type": "quantitative", "axis": null}, "y": {"datum": -1, "type": "quantitative", "axis": null}, "text": {"field": "s"}}},
    {"data": {"values": [{"s": "z", "tx": -5.8, "vy": -0.30}]}, "mark": {"type": "text", "align": "center", "baseline": "alphabetic", "angle": 270, "fontSize": 10},
     "encoding": {"x": {"field": "tx", "type": "quantitative", "axis": null}, "y": {"field": "vy", "type": "quantitative", "axis": null}, "text": {"field": "s"}}}
  ],
  "resolve": {"axis": {"x": "independent", "y": "independent"}}
},
{
  "width": 791, "height": 159,
  "layer": [
    {"data": {"name": "bottom"}, "mark": {"type": "area", "color": "#000", "opacity": 1},
     "encoding": {
       "x": {"field": "t", "type": "quantitative", "scale": {"domain": [0, 100], "nice": false, "zero": false}, "axis": {"orient": "bottom", "values": [0,10,20,30,40,50,60,70,80,90,100], "title": "Time (sec)", "titleBaseline": "alphabetic", "titleY": 31}},
       "y": {"field": "h", "type": "quantitative", "scale": {"domain": [-1, 1], "nice": false, "zero": false}, "axis": {"orient": "left", "values": [-1,-0.5,0,0.5,1], "labelExpr": "'' + datum.value", "title": "V   (cm/sec)", "titleX": -30, "titleY": 82, "titleBaseline": "alphabetic"}},
       "y2": {"field": "l"}
     }},
    {"data": {"values": [{"s": "x 10"}]}, "mark": {"type": "text", "align": "left", "baseline": "alphabetic", "dy": -4},
     "encoding": {
       "x": {"datum": 0, "type": "quantitative", "axis": {"orient": "top", "labels": false, "title": null, "domain": false, "values": [0,10,20,30,40,50,60,70,80,90,100]}},
       "y": {"datum": 1, "type": "quantitative", "axis": {"orient": "right", "labels": false, "title": null, "domain": false, "values": [-1,-0.5,0,0.5,1]}},
       "text": {"field": "s"}
     }},
    {"data": {"values": [{"s": "-4"}]}, "mark": {"type": "text", "align": "left", "baseline": "alphabetic", "dx": 27, "dy": -13, "fontSize": 9},
     "encoding": {"x": {"datum": 0, "type": "quantitative", "axis": null}, "y": {"datum": 1, "type": "quantitative", "axis": null}, "text": {"field": "s"}}},
    {"data": {"values": [{"s": "t=0 sec 17:37:55"}]}, "mark": {"type": "text", "align": "left", "baseline": "alphabetic", "dx": -56, "dy": 34},
     "encoding": {"x": {"datum": 0, "type": "quantitative", "axis": null}, "y": {"datum": -1, "type": "quantitative", "axis": null}, "text": {"field": "s"}}},
    {"data": {"values": [{"s": "z", "tx": -2.9, "vy": -0.30}]}, "mark": {"type": "text", "align": "center", "baseline": "alphabetic", "angle": 270, "fontSize": 10},
     "encoding": {"x": {"field": "tx", "type": "quantitative", "axis": null}, "y": {"field": "vy", "type": "quantitative", "axis": null}, "text": {"field": "s"}}}
  ],
  "resolve": {"axis": {"x": "independent", "y": "independent"}}
}
]
}
